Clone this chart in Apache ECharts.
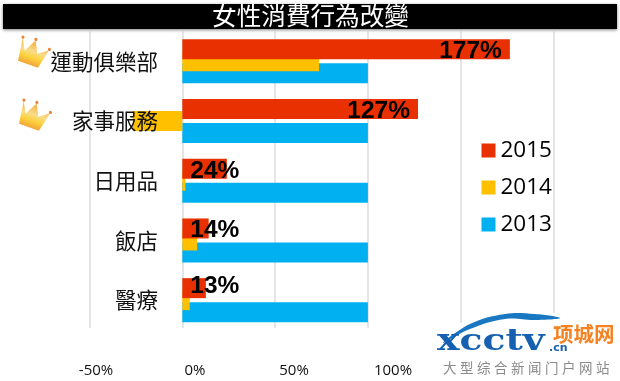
<!DOCTYPE html>
<html>
<head>
<meta charset="utf-8">
<style>html,body{margin:0;padding:0;background:#fff}#chart{width:620px;height:381px}</style>
<script src="https://cdn.jsdelivr.net/npm/echarts@6/dist/echarts.min.js"></script>
</head>
<body>
<div id="chart"></div>
<script>
const titleText = "女性消費行為改變";
const categories = ["運動俱樂部", "家事服務", "日用品", "飯店", "醫療"];
const values2015 = [176.5, 127, 24, 14.2, 12.7];
const values2014 = [73.7, -26.7, 1.7, 8, 4];
const values2013 = [100, 100, 100, 100, 100];
const labels2015 = ["177%", "127%", "24%", "14%", "13%"];
const xTicks = [-50, 0, 50, 100];
const taglineChars = ["大", "型", "综", "合", "新", "闻", "门", "户", "网", "站"];

const cjk = '"Noto Sans CJK TC", sans-serif';
const chart = echarts.init(document.getElementById("chart"));

const labelStyles = [
  { position: "insideRight", offset: [-3, 2] },
  { position: "insideRight", offset: [-3, 2] },
  { position: "insideLeft", distance: 8, offset: [0, 2] },
  { position: "insideLeft", distance: 8, offset: [0, 2] },
  { position: "insideLeft", distance: 8, offset: [0, -2] },
];

const crown = (x, y) => ({
  type: "group",
  x,
  y,
  rotation: -0.33,
  children: [
    {
      type: "polygon",
      shape: {
        points: [[-14, -12], [-8, -1], [-1, -14], [5, -2], [15, -9], [10, 11], [-11, 11]],
      },
      style: {
        fill: new echarts.graphic.LinearGradient(0, 0, 0, 1, [
          { offset: 0, color: "#f9a83a" },
          { offset: 0.45, color: "#f8dc8a" },
          { offset: 0.7, color: "#fdd23c" },
          { offset: 1, color: "#f2a53a" },
        ]),
      },
    },
    { type: "circle", shape: { cx: -14, cy: -13, r: 1.6 }, style: { fill: "#e8853a" } },
    { type: "circle", shape: { cx: -1, cy: -15, r: 1.6 }, style: { fill: "#e8853a" } },
    { type: "circle", shape: { cx: 15, cy: -10, r: 1.6 }, style: { fill: "#e8853a" } },
  ],
});

chart.setOption({
  animation: false,
  backgroundColor: "#fff",
  grid: [
    { left: 89.5, width: 464, top: 31.5, height: 298.5, outerBoundsMode: "none" },
    { left: 96, width: 297, top: 340, height: 15, outerBoundsMode: "none" },
  ],
  legend: {
    orient: "vertical",
    left: 476.5,
    top: 134,
    itemWidth: 14,
    itemHeight: 14,
    itemGap: 14,
    icon: "rect",
    data: ["2015", "2014", "2013"],
    textStyle: { fontSize: 22.5, color: "#000", fontFamily: "Open Sans" },
  },
  xAxis: [
    {
      type: "value",
      min: -50,
      max: 200,
      interval: 50,
      axisLabel: { show: false },
      axisLine: { show: false },
      axisTick: { show: false },
      splitLine: { lineStyle: { color: "#dcdcdc", width: 1.5 } },
    },
    {
      type: "value",
      gridIndex: 1,
      min: -50,
      max: 100,
      interval: 50,
      axisLabel: {
        formatter: (v) => (xTicks.includes(v) ? v + "%" : ""),
        fontSize: 15,
        color: "#111",
        fontFamily: "Open Sans",
        margin: 8,
      },
      axisLine: { show: false },
      axisTick: { show: false },
      splitLine: { show: false },
    },
  ],
  yAxis: [
    {
      type: "category",
      inverse: true,
      data: categories,
      z: 10,
      offset: -92.5, // labels hang off the 0% line, not the chart edge
      axisLine: { show: false, onZero: false },
      axisTick: { show: false },
      axisLabel: { fontSize: 21.5, color: "#111", margin: 24, fontFamily: cjk },
    },
    {
      type: "category",
      gridIndex: 1,
      show: false,
      data: [""],
    },
  ],
  series: [
    {
      name: "2015",
      type: "bar",
      z: 4,
      barWidth: 20,
      barGap: "-40%",
      itemStyle: { color: "#e83000" },
      data: values2015.map((value, i) => ({
        value,
        label: {
          show: true,
          formatter: labels2015[i],
          fontSize: 24.5,
          fontWeight: "bold",
          color: "#000",
          fontFamily: "Liberation Sans",
          ...labelStyles[i],
        },
      })),
    },
    { name: "2014", type: "bar", z: 3, barWidth: 20, itemStyle: { color: "#ffc000" }, data: values2014 },
    { name: "2013", type: "bar", z: 2, barWidth: 20, itemStyle: { color: "#00b0f0" }, data: values2013 },
  ],
  graphic: [
    // title band
    { type: "rect", shape: { x: 3, y: 4, width: 614, height: 25 }, style: { fill: "#000", shadowBlur: 3, shadowColor: "rgba(0,0,0,0.5)", shadowOffsetY: 1 }, z: 20 },
    {
      type: "text",
      x: 310.5,
      y: 15.5,
      z: 21,
      style: { text: titleText, fill: "#fff", font: "24.6px " + cjk, align: "center", verticalAlign: "middle" },
    },
    crown(32, 54),
    crown(33, 117),
    // gridlines stop short of the axis area, the logo sits on white
    { type: "rect", shape: { x: 0, y: 328, width: 620, height: 4 }, style: { fill: "#fff" }, z: 19 },
    { type: "rect", shape: { x: 450, y: 323, width: 170, height: 6 }, style: { fill: "#fff" }, z: 19 },
    { type: "rect", shape: { x: 540, y: 313, width: 30, height: 11 }, style: { fill: "#fff" }, z: 19 },
    // watermark
    {
      type: "polygon",
      z: 21,
      shape: {
        smooth: 0.4,
        points: [[443, 343], [470, 324], [505, 314], [535, 314], [560, 318], [535, 320], [505, 319], [470, 329]],
      },
      style: { fill: "#1a78c2" },
    },
    {
      type: "text",
      x: 437,
      y: 357,
      scaleX: 1.3,
      z: 21,
      style: { text: "xcctv", fill: "#1560b0", font: "bold 29px 'DejaVu Serif'", verticalAlign: "bottom" },
    },
    {
      type: "text",
      x: 549,
      y: 354,
      z: 22,
      style: { text: ".cn", fill: "#1560b0", font: "bold 11px 'DejaVu Sans'", verticalAlign: "bottom" },
    },
    {
      type: "text",
      x: 553,
      y: 334,
      z: 22,
      style: { text: "项城网", fill: "#f5821f", font: "bold 20.5px 'Noto Sans CJK SC'", verticalAlign: "middle" },
    },
    ...taglineChars.map((ch, i) => ({
      type: "text",
      x: 443 + i * 17,
      y: 368,
      z: 21,
      style: { text: ch, fill: "#8a8a8a", font: "13.5px 'Noto Sans CJK SC'", verticalAlign: "middle" },
    })),
  ],
});
</script>
</body>
</html>
